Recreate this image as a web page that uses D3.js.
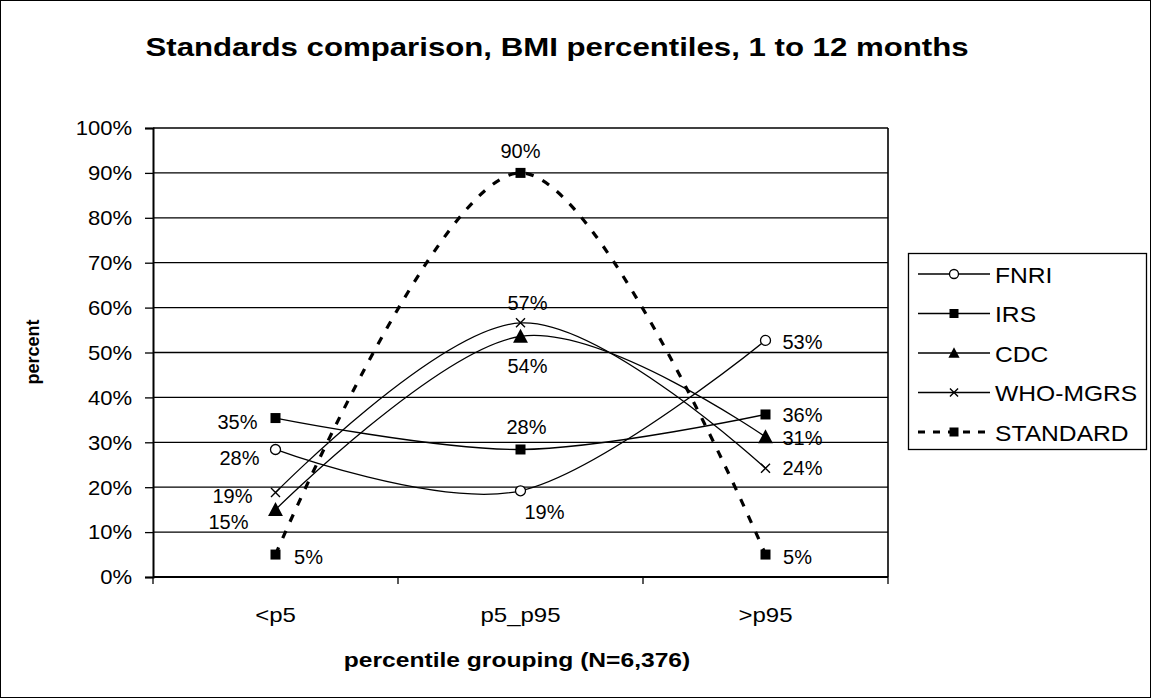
<!DOCTYPE html>
<html>
<head>
<meta charset="utf-8">
<script src="https://cdn.jsdelivr.net/npm/d3@7"></script>
<style>
  html, body { margin: 0; padding: 0; background: #fff; }
  svg { display: block; font-family: "Liberation Sans", Arial, sans-serif; }
</style>
</head>
<body>
<svg id="chart" width="1151" height="698"></svg>
<script>
// ---- data ----
const categories = ["<p5", "p5_p95", ">p95"];
const fnri     = [28.4, 19.2, 52.7];
const irs      = [35.4, 28.4, 36.2];
const cdc      = [15.0, 53.6, 31.2];
const whoMgrs  = [18.8, 56.6, 24.2];
const standard = [5.0, 90.0, 5.0];
const seriesNames = ["FNRI", "IRS", "CDC", "WHO-MGRS", "STANDARD"];
const yTicks = [0, 10, 20, 30, 40, 50, 60, 70, 80, 90, 100];

const titleText = "Standards comparison, BMI percentiles, 1 to 12 months";
const xTitle = "percentile grouping (N=6,376)";
const yTitle = "percent";

// ---- styling / placement (not data) ----
const markerOf = { "FNRI": "circle", "IRS": "square", "CDC": "triangle", "WHO-MGRS": "cross", "STANDARD": "square" };
const labelOffsets = {
  "FNRI":     [[-36, 9], [24, 21], [37, 2]],
  "IRS":      [[-38, 4], [6, -22], [37, 1]],
  "CDC":      [[-47, 12], [7, 30], [37, 1]],
  "WHO-MGRS": [[-43, 3], [7, -20], [37, 0]],
  "STANDARD": [[33, 2], [0, -22], [32, 2]]
};
const valuesBySeries = { "FNRI": fnri, "IRS": irs, "CDC": cdc, "WHO-MGRS": whoMgrs, "STANDARD": standard };

const svg = d3.select("#chart");
const W = 1151, H = 698;
const plot = { left: 153, right: 888, top: 128, bottom: 577 };

// helper: text with horizontal stretch (reference is horizontally stretched)
function stext(g, x, y, str, size, sx, anchor, bold) {
  return g.append("text")
    .attr("transform", `translate(${x},${y}) scale(${sx},1)`)
    .attr("text-anchor", anchor || "middle")
    .attr("dominant-baseline", "central")
    .attr("font-size", size)
    .attr("font-weight", bold ? "bold" : null)
    .attr("fill", "#000")
    .text(str);
}

// outer border
svg.append("rect").attr("x", 0.5).attr("y", 0.5).attr("width", W - 1).attr("height", H - 1)
  .attr("fill", "#fff").attr("stroke", "#000").attr("stroke-width", 1);

const x = d3.scaleBand().domain(categories).range([plot.left, plot.right]).paddingInner(0).paddingOuter(0);
const xc = c => x(c) + x.bandwidth() / 2;
const y = d3.scaleLinear().domain([0, 100]).range([plot.bottom, plot.top]);

// gridlines
svg.append("g").selectAll("line").data(yTicks.filter(t => t > 0)).join("line")
  .attr("x1", plot.left).attr("x2", plot.right)
  .attr("y1", d => y(d)).attr("y2", d => y(d))
  .attr("stroke", "#000").attr("stroke-width", 1.3);

// plot right border
svg.append("line").attr("x1", plot.right).attr("x2", plot.right).attr("y1", plot.top).attr("y2", plot.bottom)
  .attr("stroke", "#000").attr("stroke-width", 1.6);

// y axis
const yAxis = d3.axisLeft(y).tickValues(yTicks).tickSize(8).tickFormat(d => d + "%");
const gy = svg.append("g").attr("transform", `translate(${plot.left},0)`).call(yAxis);
gy.select(".domain").attr("stroke", "#000").attr("stroke-width", 2);
gy.selectAll(".tick line").attr("stroke", "#000").attr("stroke-width", 1.3);
gy.selectAll(".tick text")
  .attr("x", null).attr("dy", null)
  .attr("transform", "translate(-21,0) scale(1.05,1)")
  .attr("dominant-baseline", "central")
  .attr("font-size", 21).attr("fill", "#000")
  .attr("font-family", "'Liberation Sans', Arial, sans-serif");

// x axis
svg.append("line").attr("x1", plot.left).attr("x2", plot.right).attr("y1", plot.bottom).attr("y2", plot.bottom)
  .attr("stroke", "#000").attr("stroke-width", 2);
const boundaries = categories.map(c => x(c)).concat([plot.right]);
svg.append("g").selectAll("line").data(boundaries).join("line")
  .attr("x1", d => d).attr("x2", d => d).attr("y1", plot.bottom).attr("y2", plot.bottom + 7)
  .attr("stroke", "#000").attr("stroke-width", 1.3);
const gx = svg.append("g");
categories.forEach(c => stext(gx, xc(c), 615, c, 20, 1.2, "middle"));

// titles
stext(svg, 557, 47, titleText, 26, 1.2, "middle", true);
stext(svg, 517, 660, xTitle, 20, 1.23, "middle", true);
svg.append("text").attr("transform", "translate(33,352) rotate(-90)").attr("text-anchor", "middle")
  .attr("dominant-baseline", "central").attr("font-size", 18).attr("font-weight", "bold").text(yTitle);

// marker drawing
function drawMarker(g, type, cx, cy, s) {
  if (type === "circle") {
    g.append("circle").attr("cx", cx).attr("cy", cy).attr("r", s * 0.5)
      .attr("fill", "#fff").attr("stroke", "#000").attr("stroke-width", 1.3);
  } else if (type === "square") {
    g.append("rect").attr("x", cx - s / 2).attr("y", cy - s / 2).attr("width", s).attr("height", s).attr("fill", "#000");
  } else if (type === "triangle") {
    const h = s * 1.05;
    g.append("path").attr("d", `M${cx},${cy - h * 0.6}L${cx + s * 0.62},${cy + h * 0.5}L${cx - s * 0.62},${cy + h * 0.5}Z`).attr("fill", "#000");
  } else if (type === "cross") {
    const r = s * 0.45;
    g.append("path").attr("d", `M${cx - r},${cy - r}L${cx + r},${cy + r}M${cx - r},${cy + r}L${cx + r},${cy - r}`)
      .attr("stroke", "#000").attr("stroke-width", 1.4).attr("fill", "none");
  }
}

const line = d3.line().x(d => d[0]).y(d => d[1]).curve(d3.curveCardinal.tension(0));
const fmt = d3.format(".0%");

const linesG = svg.append("g");
const marksG = svg.append("g");
const labelsG = svg.append("g");

seriesNames.forEach(name => {
  const vals = valuesBySeries[name];
  const pts = categories.map((c, i) => [xc(c), y(vals[i])]);
  const isStd = name === "STANDARD";
  linesG.append("path").attr("d", line(pts)).attr("fill", "none").attr("stroke", "#000")
    .attr("stroke-width", isStd ? 3.2 : 1.3)
    .attr("stroke-dasharray", isStd ? "8,10" : null);
  pts.forEach((p, i) => {
    drawMarker(marksG, markerOf[name], p[0], p[1], name === "CDC" ? 12 : 10);
    const off = labelOffsets[name][i];
    stext(labelsG, p[0] + off[0], p[1] + off[1], fmt(vals[i] / 100), 20, 1.0, "middle");
  });
});

// legend
const lg = svg.append("g");
lg.append("rect").attr("x", 908.5).attr("y", 253.5).attr("width", 238).attr("height", 196)
  .attr("fill", "#fff").attr("stroke", "#000").attr("stroke-width", 1.3);
seriesNames.forEach((name, i) => {
  const cy = 274 + i * 39.5;
  const isStd = name === "STANDARD";
  lg.append("line").attr("x1", 918).attr("x2", 990).attr("y1", cy).attr("y2", cy)
    .attr("stroke", "#000").attr("stroke-width", isStd ? 3.2 : 1.3)
    .attr("stroke-dasharray", isStd ? "7,8" : null);
  drawMarker(lg, markerOf[name], 954, cy, 9);
  stext(lg, 995, cy + 1, name, 22, 1.12, "start");
});
</script>
</body>
</html>
